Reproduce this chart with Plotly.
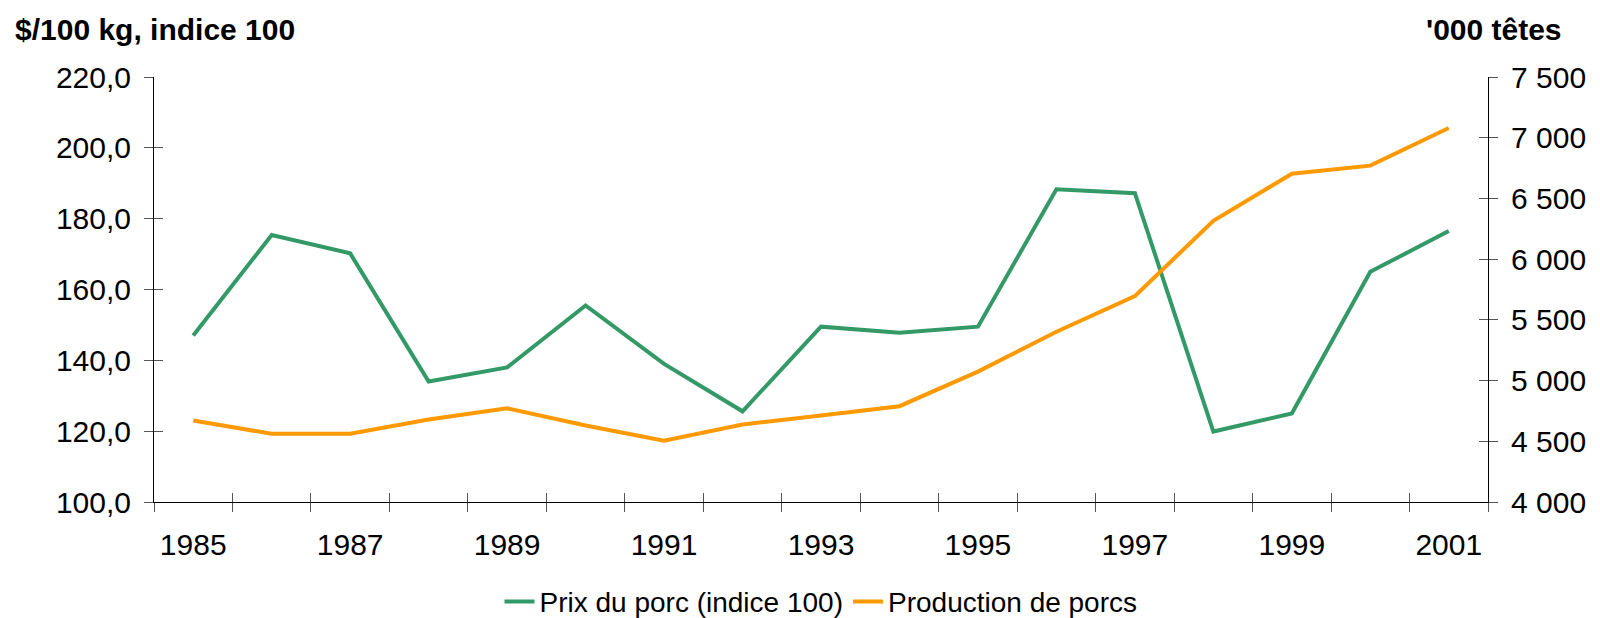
import plotly.graph_objects as go

# ── Data ────────────────────────────────────────────────────────────────
years = [str(y) for y in range(1985, 2002)]
year_labels = [y if i % 2 == 0 else "" for i, y in enumerate(years)]

prix_porc = [147.0, 175.4, 170.2, 134.0, 138.0, 155.5, 139.0, 125.6, 149.5,
             147.8, 149.5, 188.3, 187.2, 119.9, 125.0, 165.0, 176.5]
production = [4671, 4562, 4562, 4680, 4772, 4630, 4504, 4638, 4713,
              4789, 5074, 5402, 5695, 6316, 6703, 6770, 7080]

left_ticks = [100, 120, 140, 160, 180, 200, 220]
right_ticks = [4000, 4500, 5000, 5500, 6000, 6500, 7000, 7500]

GREEN = "#339966"
ORANGE = "#FF9900"
FONT = "Liberation Sans, Arial, sans-serif"

fig = go.Figure()

fig.add_trace(go.Scatter(
    x=years, y=prix_porc, name="Prix du porc (indice 100)",
    mode="lines", line=dict(color=GREEN, width=4),
))
fig.add_trace(go.Scatter(
    x=years, y=production, name="Production de porcs",
    mode="lines", line=dict(color=ORANGE, width=4), yaxis="y2",
))

# invisible copies so the overlay axes (inner half of the cross ticks) get drawn
fig.add_trace(go.Scatter(x=years, y=prix_porc, xaxis="x2", yaxis="y3",
                         mode="lines", line=dict(width=0), opacity=0,
                         showlegend=False, hoverinfo="skip"))
fig.add_trace(go.Scatter(x=years, y=production, xaxis="x2", yaxis="y4",
                         mode="lines", line=dict(width=0), opacity=0,
                         showlegend=False, hoverinfo="skip"))

tick_col = "#555555"

fig.update_layout(
    width=1600, height=618,
    paper_bgcolor="white", plot_bgcolor="white",
    separators=", ",
    font=dict(family=FONT, size=30, color="black"),
    margin=dict(l=154, r=112, t=77, b=116, autoexpand=False),
    showlegend=True,
    legend=dict(orientation="h", x=0.5, xanchor="center", y=-0.235,
                yanchor="middle", font=dict(size=28), bgcolor="rgba(0,0,0,0)",
                itemwidth=30, tracegroupgap=0),
    xaxis=dict(
        type="category", categoryorder="array", categoryarray=years,
        tickmode="array", tickvals=years, ticktext=year_labels,
        tickson="boundaries", ticks="outside", ticklen=9, tickcolor=tick_col,
        showline=True, linecolor="black", linewidth=1, showgrid=False,
        ticklabelstandoff=16, range=[-0.5, 16.5], automargin=False,
    ),
    xaxis2=dict(
        type="category", categoryorder="array", categoryarray=years,
        overlaying="x", matches="x", tickmode="array", tickvals=years,
        tickson="boundaries", ticks="inside", ticklen=9, tickcolor=tick_col,
        showticklabels=False, showline=False, showgrid=False, anchor="y3",
    ),
    yaxis=dict(
        range=[100, 220], tickmode="array", tickvals=left_ticks,
        tickformat=".1f", ticks="outside", ticklen=9, tickcolor=tick_col,
        showline=True, linecolor="black", linewidth=1, showgrid=False,
        zeroline=False, ticklabelstandoff=7, automargin=False,
    ),
    yaxis2=dict(
        range=[4000, 7500], tickmode="array", tickvals=right_ticks,
        tickformat=",d", overlaying="y", side="right",
        ticks="outside", ticklen=9, tickcolor=tick_col,
        showline=True, linecolor="black", linewidth=1, showgrid=False,
        zeroline=False, ticklabelstandoff=7, automargin=False,
    ),
    yaxis3=dict(
        range=[100, 220], overlaying="y", matches="y", tickmode="array",
        tickvals=left_ticks, ticks="inside", ticklen=9, tickcolor=tick_col,
        showticklabels=False, showline=False, showgrid=False, zeroline=False,
        anchor="x2",
    ),
    yaxis4=dict(
        range=[4000, 7500], overlaying="y", side="right", tickmode="array",
        tickvals=right_ticks, ticks="inside", ticklen=9, tickcolor=tick_col,
        showticklabels=False, showline=False, showgrid=False, zeroline=False,
        anchor="x2",
    ),
)

fig.add_annotation(text="<b>$/100 kg, indice 100</b>", xref="paper", yref="paper",
                   x=-0.1057, y=1.1106, xanchor="left", yanchor="middle",
                   showarrow=False, font=dict(size=30))
fig.add_annotation(text="<b>'000 têtes</b>", xref="paper", yref="paper",
                   x=1.057, y=1.1106, xanchor="right", yanchor="middle",
                   showarrow=False, font=dict(size=30))

# the page's default body margin would push the chart 8px right and down
fig.write_html("out.html", config={"displayModeBar": False},
               post_script="document.body.style.margin='0';")
